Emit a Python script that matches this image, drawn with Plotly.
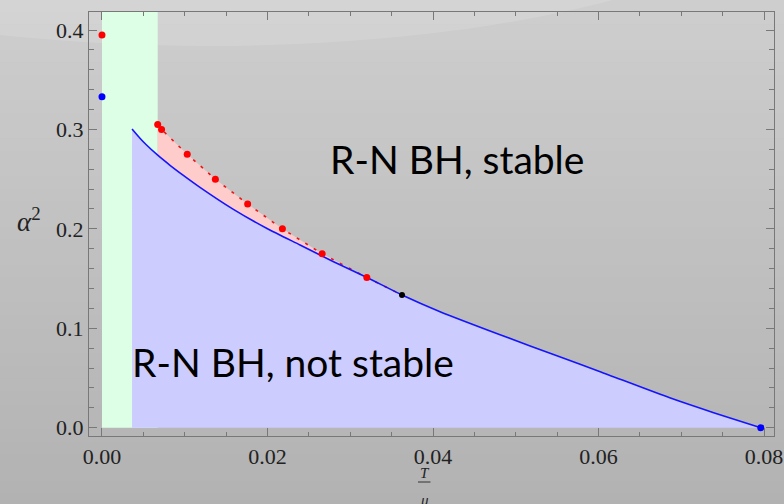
import plotly.graph_objects as go

# ---------------- data ----------------
# blue critical curve alpha^2(T/mu)
curve_T = [0.00363, 0.00459, 0.00532, 0.00673, 0.00822, 0.00979, 0.01184, 0.01583,
           0.01994, 0.02393, 0.02792, 0.03202, 0.03625, 0.04085, 0.0481, 0.0553,
           0.0602, 0.0686, 0.0740, 0.0796]
curve_a2 = [0.3005, 0.2912, 0.2849, 0.2741, 0.2640, 0.2541, 0.2418, 0.2199,
            0.2004, 0.1838, 0.1672, 0.1511, 0.1335, 0.1167, 0.0935, 0.0713,
            0.0563, 0.0300, 0.0148, 0.0]

# red numerical points (dashed boundary)
red_T = [0.00673, 0.0072, 0.0103, 0.0137, 0.0176, 0.0218, 0.0266, 0.0320]
red_a2 = [0.305, 0.300, 0.275, 0.250, 0.225, 0.200, 0.175, 0.151]

# junction point (black)
black_T = [0.03625]
black_a2 = [0.1335]

# points at T = 0
zero_red_T, zero_red_a2 = [0.0], [0.395]
zero_blue_T, zero_blue_a2 = [0.0], [0.333]

# endpoint of blue curve
end_T, end_a2 = [0.0796], [0.0]

# green low-temperature band
band_T = [0.0, 0.00673]
band_a2 = [0.0, 0.5]

x_ticks = [0.00, 0.02, 0.04, 0.06, 0.08]
x_labels = ["0.00", "0.02", "0.04", "0.06", "0.08"]
y_ticks = [0.0, 0.1, 0.2, 0.3, 0.4]
y_labels = ["0.0", "0.1", "0.2", "0.3", "0.4"]

label_stable = "R-N BH, stable"
label_unstable = "R-N BH, not stable"

# ---------------- figure ----------------
fig = go.Figure()

# green band
fig.add_trace(go.Scatter(
    x=[band_T[0], band_T[1], band_T[1], band_T[0], band_T[0]],
    y=[band_a2[0], band_a2[0], band_a2[1], band_a2[1], band_a2[0]],
    fill="toself", fillcolor="rgb(221,255,230)", line=dict(width=0),
    mode="lines", hoverinfo="skip", showlegend=False))

# blue filled region under curve
fig.add_trace(go.Scatter(
    x=curve_T, y=curve_a2, fill="tozeroy", fillcolor="rgb(204,204,255)",
    line=dict(width=0, shape="spline", smoothing=0.6), mode="lines",
    hoverinfo="skip", showlegend=False))

# segment of curve under the pink region (invisible), then pink fill to it
seg = [i for i, t in enumerate(curve_T) if red_T[0] <= t <= black_T[0]]
fig.add_trace(go.Scatter(
    x=[curve_T[i] for i in seg], y=[curve_a2[i] for i in seg], mode="lines",
    line=dict(width=0, shape="spline", smoothing=0.6),
    hoverinfo="skip", showlegend=False))
fig.add_trace(go.Scatter(
    x=red_T + black_T, y=red_a2 + black_a2, mode="lines",
    fill="tonexty", fillcolor="rgb(255,204,204)",
    line=dict(color="rgb(240,20,20)", width=1.6, dash="3px,7px"),
    hoverinfo="skip", showlegend=False))

# blue curve
fig.add_trace(go.Scatter(
    x=curve_T, y=curve_a2, mode="lines",
    line=dict(color="rgb(20,20,255)", width=1.6, shape="spline", smoothing=0.6),
    showlegend=False))

# markers
fig.add_trace(go.Scatter(x=red_T, y=red_a2, mode="markers",
                         marker=dict(color="rgb(255,0,0)", size=7), showlegend=False))
fig.add_trace(go.Scatter(x=zero_red_T, y=zero_red_a2, mode="markers",
                         marker=dict(color="rgb(255,0,0)", size=7), showlegend=False))
fig.add_trace(go.Scatter(x=zero_blue_T, y=zero_blue_a2, mode="markers",
                         marker=dict(color="rgb(0,0,255)", size=7), showlegend=False))
fig.add_trace(go.Scatter(x=end_T, y=end_a2, mode="markers", cliponaxis=False,
                         marker=dict(color="rgb(0,0,255)", size=7), showlegend=False))
fig.add_trace(go.Scatter(x=black_T, y=black_a2, mode="markers",
                         marker=dict(color="black", size=6), showlegend=False))

# ---------------- background (slide-like gray gradient) ----------------
shapes = []
n_bands = 40
top_c, bot_c = 206, 178
y_top, y_bot = 1.03, -0.165
for i in range(n_bands):
    y0 = y_top - (y_top - y_bot) * i / n_bands
    y1 = y_top - (y_top - y_bot) * (i + 1) / n_bands
    c = round(top_c + (bot_c - top_c) * (i + 0.5) / n_bands)
    shapes.append(dict(type="rect", xref="paper", yref="paper",
                       x0=-0.14, x1=1.02, y0=y1, y1=y0 + 0.001,
                       fillcolor=f"rgb({c},{c},{c})", line=dict(width=0),
                       layer="below"))
# faint light arc at the top
shapes.append(dict(type="circle", xref="paper", yref="paper",
                   x0=-0.70, x1=1.05, y0=0.92, y1=1.75,
                   fillcolor="rgba(255,255,255,0.13)", line=dict(width=0),
                   layer="below"))
# fraction bar of T/mu
shapes.append(dict(type="line", xref="paper", yref="paper", x0=0.4803, x1=0.4985,
                   y0=-0.1085, y1=-0.1085, line=dict(color="#333", width=1)))

axis_color = "rgb(120,120,120)"
tick_font = dict(family="Liberation Serif, Times New Roman, serif", size=22, color="#222")
math_font = dict(family="Liberation Serif, serif", color="#222")

fig.update_layout(
    template="none",
    width=784, height=504,
    margin=dict(l=89, r=10, t=12, b=68, pad=0),
    paper_bgcolor="rgb(192,192,192)",
    plot_bgcolor="rgba(0,0,0,0)",
    shapes=shapes,
    xaxis=dict(range=[-0.00157, 0.0812], tickvals=x_ticks, ticktext=x_labels,
               automargin=False,
               showgrid=False, zeroline=False, showline=True, linecolor=axis_color,
               linewidth=1.2, mirror="allticks", ticks="inside", ticklen=8,
               tickcolor=axis_color, tickwidth=1, tickfont=tick_font,
               minor=dict(dtick=0.005, tick0=0, ticks="inside", ticklen=4,
                          tickcolor=axis_color, showgrid=False)),
    yaxis=dict(range=[-0.0084, 0.4182], tickvals=y_ticks, ticktext=y_labels,
               automargin=False,
               showgrid=False, zeroline=False, showline=True, linecolor=axis_color,
               linewidth=1.2, mirror="allticks", ticks="inside", ticklen=8,
               tickcolor=axis_color, tickwidth=1, tickfont=tick_font,
               minor=dict(dtick=0.02, tick0=0, ticks="inside", ticklen=5,
                          tickcolor=axis_color, showgrid=False)),
    annotations=[
        dict(text=label_stable, x=0.0429, y=0.270, xref="x", yref="y",
             xanchor="center", yanchor="middle", showarrow=False,
             font=dict(family="Lato, Carlito, sans-serif", size=39, color="black")),
        dict(text=label_unstable, x=0.0231, y=0.066, xref="x", yref="y",
             xanchor="center", yanchor="middle", showarrow=False,
             font=dict(family="Lato, Carlito, sans-serif", size=39, color="black")),
        dict(text="<i>α</i><sup>2</sup>", x=-0.0876, y=0.51, xref="paper", yref="paper",
             xanchor="center", yanchor="middle", showarrow=False,
             font=dict(size=27, **math_font)),
        dict(text="<i>T</i>", x=0.4905, y=-0.0875, xref="paper", yref="paper",
             xanchor="center", yanchor="middle", showarrow=False,
             font=dict(size=15, **math_font)),
        dict(text="<i>μ</i>", x=0.4905, y=-0.151, xref="paper", yref="paper",
             xanchor="center", yanchor="middle", showarrow=False,
             font=dict(size=15, **math_font)),
    ],
)

fig.write_html("out.html")
